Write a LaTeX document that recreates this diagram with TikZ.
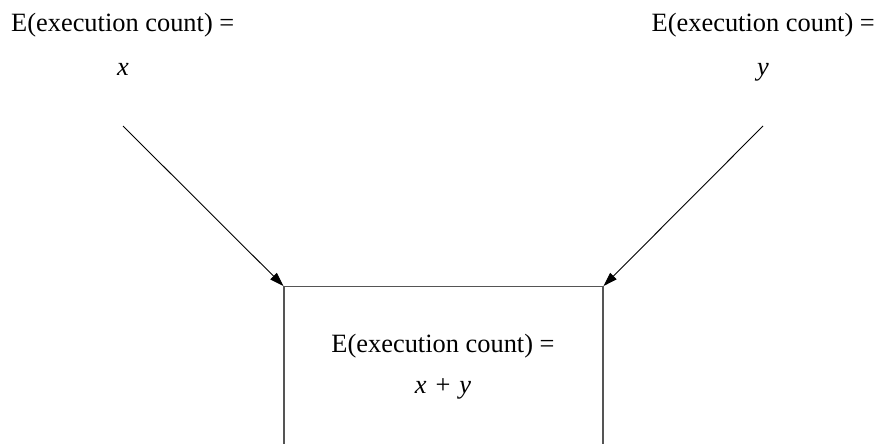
\documentclass[tikz,border=0pt]{standalone}
\usepackage{fontspec}
\setmainfont{Liberation Serif}
\usetikzlibrary{arrows.meta}
\definecolor{boxgray}{HTML}{555555}
\begin{document}
\begin{tikzpicture}[x=1pt,y=-1pt,
  lbl/.style={anchor=base,inner sep=0pt,font=\fontsize{26.4}{30}\selectfont},
  conn/.style={line width=0.9pt,-{Triangle[length=14pt,width=9pt]}},
  boxst/.style={draw=boxgray,line width=1.1pt,minimum width=319pt,minimum height=200pt,anchor=north,inner sep=0pt}]
\useasboundingbox (0,0) rectangle (880,444);
\clip (0,0) rectangle (880,444);
\node[lbl,anchor=base west] (ltitle) at (11,32) {E(execution count) =};
\node[lbl] (lval) at (123,75) {\itshape x};
\node[lbl,anchor=base east] (rtitle) at (875,32) {E(execution count) =};
\node[lbl] (rval) at (763,75) {\itshape y};
\node[boxst] (box) at (443.5,286) {};
\node[lbl] (btitle) at (443,352) {E(execution count) =};
\node[lbl] (bval) at (443,393) {\itshape x\upshape\hspace{9pt}+\hspace{9pt}\itshape y};
\coordinate (ls) at (123,126);
\coordinate (rs) at (763,126);
\draw[conn] (ls) -- (box.north west);
\draw[conn] (rs) -- (box.north east);
\end{tikzpicture}
\end{document}
